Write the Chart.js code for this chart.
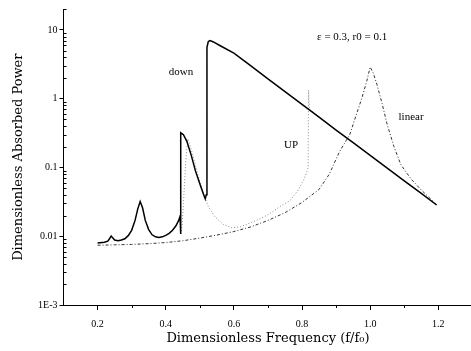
<!DOCTYPE html>
<html>
<head>
<meta charset="utf-8">
<script src="https://cdn.jsdelivr.net/npm/chart.js@4/dist/chart.umd.min.js"></script>
<style>
  html, body { margin: 0; padding: 0; background: #fff; overflow: hidden; }
  #wrap { width: 476px; height: 351px; }
</style>
</head>
<body>
<div id="wrap"><canvas id="chart"></canvas></div>
<script>
// sweep down (solid)
const downFreq  = [0.20, 0.22, 0.23, 0.235, 0.24, 0.245, 0.25, 0.26, 0.27, 0.28, 0.29, 0.30, 0.31, 0.318, 0.325, 0.332, 0.34, 0.35, 0.36, 0.37, 0.38, 0.39, 0.40, 0.41, 0.42, 0.43, 0.438, 0.442, 0.444, 0.444, 0.452, 0.462, 0.475, 0.487, 0.50, 0.51, 0.516, 0.519, 0.521, 0.525, 0.53, 0.54, 0.56, 0.60, 0.65, 0.70, 0.75, 0.80, 0.85, 0.90, 0.95, 1.00, 1.05, 1.10, 1.15, 1.195];
const downPower = [0.0080, 0.0082, 0.0085, 0.0092, 0.0101, 0.0094, 0.0088, 0.0086, 0.0088, 0.0092, 0.0102, 0.0122, 0.0170, 0.025, 0.032, 0.026, 0.017, 0.0125, 0.0105, 0.0098, 0.0096, 0.0098, 0.0103, 0.0110, 0.0122, 0.0142, 0.0170, 0.0195, 0.0108, 0.32, 0.30, 0.24, 0.15, 0.09, 0.058, 0.042, 0.035, 0.040, 5.6, 6.8, 7.0, 6.7, 5.9, 4.6, 3.0, 1.95, 1.27, 0.83, 0.54, 0.35, 0.23, 0.15, 0.098, 0.064, 0.042, 0.0285];

// sweep up (dotted)
const upFreq  = [0.444, 0.448, 0.452, 0.456, 0.46, 0.465, 0.47, 0.48, 0.49, 0.50, 0.51, 0.525, 0.545, 0.57, 0.595, 0.62, 0.66, 0.70, 0.74, 0.765, 0.79, 0.805, 0.814, 0.818, 0.819, 0.822, 0.85, 0.90, 0.95, 1.00, 1.05, 1.10, 1.15, 1.195];
const upPower = [0.0108, 0.014, 0.03, 0.07, 0.15, 0.26, 0.22, 0.15, 0.095, 0.062, 0.043, 0.027, 0.019, 0.0148, 0.0132, 0.0138, 0.0165, 0.0205, 0.028, 0.033, 0.048, 0.066, 0.087, 0.1, 1.34, 0.70, 0.54, 0.35, 0.23, 0.15, 0.098, 0.064, 0.042, 0.0285];

// linear response (dash-dot)
const linFreq  = [0.20, 0.25, 0.30, 0.35, 0.40, 0.45, 0.50, 0.55, 0.60, 0.65, 0.70, 0.75, 0.80, 0.85, 0.88, 0.91, 0.94, 0.96, 0.975, 0.99, 1.00, 1.01, 1.02, 1.035, 1.05, 1.07, 1.09, 1.12, 1.15, 1.18, 1.195];
const linPower = [0.0074, 0.0075, 0.0076, 0.0078, 0.0081, 0.0086, 0.0094, 0.0104, 0.0117, 0.0137, 0.0170, 0.022, 0.031, 0.048, 0.080, 0.17, 0.30, 0.60, 1.0, 1.8, 2.9, 2.3, 1.6, 0.85, 0.42, 0.20, 0.11, 0.068, 0.047, 0.034, 0.0285];

const xTicks = [0.2, 0.4, 0.6, 0.8, 1.0, 1.2];
const xTickLabels = ['0.2', '0.4', '0.6', '0.8', '1.0', '1.2'];
const xMinor = [0.3, 0.5, 0.7, 0.9, 1.1];
const yTicks = [0.001, 0.01, 0.1, 1, 10];
const yTickLabels = ['1E-3', '0.01', '0.1', '1', '10'];

const notes = [
    { text: 'down', f: 0.445, p: 2.45 },
    { text: 'UP', f: 0.768, p: 0.21 },
    { text: 'linear', f: 1.12, p: 0.54 },
    { text: '\u03b5 = 0.3, r0 = 0.1', f: 0.947, p: 7.9 }
];

function pairs (xs, ys) {
    return xs.map((v, i) => ({ x: v, y: ys[i] }));
}

const serif = 'Liberation Serif';

// minor ticks + text labels inside the plot
const extras = {
    id: 'extras',
    afterDraw (chart) {
        const ctx = chart.ctx;
        const x = chart.scales.x;
        const y = chart.scales.y;
        const area = chart.chartArea;
        ctx.save();
        ctx.strokeStyle = '#000';
        ctx.lineWidth = 1;
        xMinor.forEach(v => {
            let px = Math.round(x.getPixelForValue(v)) + 0.5;
            ctx.beginPath();
            ctx.moveTo(px, area.bottom);
            ctx.lineTo(px, area.bottom + 3);
            ctx.stroke();
        });
        for (let d = 0.001; d < 20; d *= 10) {
            for (let k = 2; k <= 9; k++) {
                let v = k * d;
                if (v > 20) break;
                let py = Math.round(y.getPixelForValue(v)) + 0.5;
                ctx.beginPath();
                ctx.moveTo(area.left, py);
                ctx.lineTo(area.left + 3, py);
                ctx.stroke();
            }
        }
        ctx.fillStyle = '#000';
        ctx.font = '11px "' + serif + '"';
        ctx.textAlign = 'center';
        ctx.textBaseline = 'middle';
        notes.forEach(n => {
            ctx.fillText(n.text, x.getPixelForValue(n.f), y.getPixelForValue(n.p));
        });
        ctx.restore();
    }
};

const ctx = document.getElementById('chart').getContext('2d');
new Chart(ctx, {
    type: 'line',
    data: {
        datasets: [
            {
                label: 'down',
                data: pairs(downFreq, downPower),
                borderColor: '#000',
                borderWidth: 1.5,
                order: 0
            },
            {
                label: 'linear',
                data: pairs(linFreq, linPower),
                borderColor: '#333',
                borderWidth: 1,
                borderDash: [3, 2, 1, 2],
                order: 1
            },
            {
                label: 'UP',
                data: pairs(upFreq, upPower),
                borderColor: '#8a8a8a',
                borderWidth: 1,
                borderDash: [1, 2],
                order: 2
            }
        ]
    },
    options: {
        responsive: true,
        maintainAspectRatio: false,
        animation: false,
        layout: { padding: { top: 9.3, right: 3.6, left: 0, bottom: 0 } },
        elements: { point: { radius: 0 }, line: { tension: 0 } },
        plugins: { legend: { display: false }, tooltip: { enabled: false } },
        scales: {
            x: {
                type: 'linear',
                min: 0.1,
                max: 1.3,
                afterFit: s => { s.height = 46; },
                afterBuildTicks: s => { s.ticks = xTicks.map(v => ({ value: v })); },
                border: { display: true, color: '#000', width: 1 },
                grid: { drawOnChartArea: false, drawTicks: true, tickLength: 5, color: '#000' },
                ticks: {
                    color: '#000',
                    font: { family: serif, size: 10 },
                    padding: 8,
                    maxRotation: 0,
                    callback: (v, i) => xTickLabels[i]
                },
                title: {
                    display: true,
                    text: 'Dimensionless Frequency (f/f\u2080)',
                    color: '#000',
                    font: { family: 'DejaVu Serif', size: 13 },
                    padding: { top: 0, bottom: 5 }
                }
            },
            y: {
                type: 'logarithmic',
                min: 0.001,
                max: 20,
                afterFit: s => { s.width = 63.5; },
                afterBuildTicks: s => { s.ticks = yTicks.map(v => ({ value: v })); },
                border: { display: true, color: '#000', width: 1 },
                grid: { drawOnChartArea: false, drawTicks: true, tickLength: 4, color: '#000' },
                ticks: {
                    color: '#000',
                    font: { family: serif, size: 10 },
                    padding: 2,
                    callback: (v, i) => yTickLabels[i]
                },
                title: {
                    display: true,
                    text: 'Dimensionless Absorbed Power',
                    color: '#000',
                    font: { family: 'DejaVu Serif', size: 13 },
                    padding: { top: 11, bottom: 0 }
                }
            }
        }
    },
    plugins: [extras]
});
</script>
</body>
</html>
